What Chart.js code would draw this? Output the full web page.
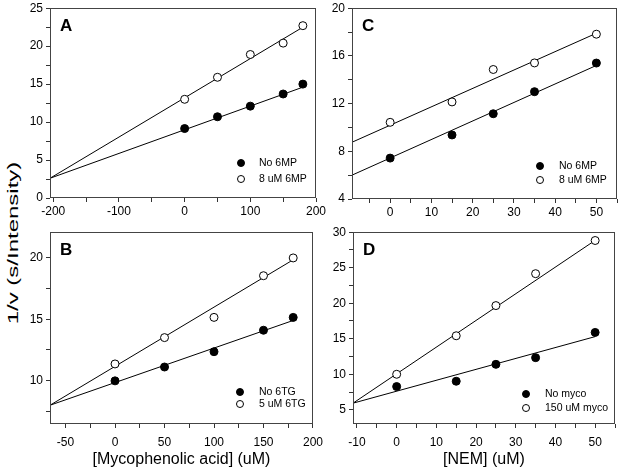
<!DOCTYPE html>
<html>
<head>
<meta charset="utf-8">
<script src="https://cdn.jsdelivr.net/npm/chart.js@4.4.1/dist/chart.umd.min.js"></script>
<style>
  body { margin: 0; background: #fff; width: 622px; height: 474px; overflow: hidden; position: relative; font-family: Arial, "Liberation Sans", sans-serif; }
  canvas { position: absolute; }
  #ytitle { position: absolute; left: 12px; top: 243px; font-size: 15px; white-space: nowrap;
            transform: translate(-50%, -50%) rotate(-90deg) scaleX(1.6); }
</style>
</head>
<body>
<div id="ytitle">1/v (s/Intensity)</div>
<canvas id="chartA" width="330" height="224" style="left:0;top:-2px"></canvas>
<canvas id="chartB" width="330" height="252" style="left:0;top:222px"></canvas>
<canvas id="chartC" width="302" height="224" style="left:320px;top:-2px"></canvas>
<canvas id="chartD" width="302" height="252" style="left:320px;top:222px"></canvas>
<script>
// A: mycophenolic acid, +/- 6MP
const xA = [0, 50, 100, 150, 180];
const noA = [9.15, 10.7, 12.1, 13.7, 15.0];
const withA = [13.0, 15.9, 18.9, 20.4, 22.7];
const fitXA = [-205, 180];
const fitNoA = [2.6, 14.6];
const fitWithA = [2.6, 22.5];

// B: mycophenolic acid, +/- 6TG
const xB = [0, 50, 100, 150, 180];
const noB = [9.97, 11.1, 12.35, 14.1, 15.15];
const withB = [11.35, 13.5, 15.15, 18.55, 20.0];
const fitXB = [-65.7, 180];
const fitNoB = [7.98, 14.9];
const fitWithB = [7.98, 19.85];

// C: NEM, +/- 6MP
const xC = [0, 15, 25, 35, 50];
const noC = [7.43, 9.37, 11.15, 13.0, 15.4];
const withC = [10.43, 12.14, 14.86, 15.41, 17.82];
const fitXC = [-9.25, 50];
const fitNoC = [6.0, 15.2];
const fitWithC = [8.76, 17.9];

// D: NEM, +/- mycophenolic acid
const xD = [0, 15, 25, 35, 50];
const noD = [8.27, 9.02, 11.4, 12.34, 15.89];
const withD = [10.0, 15.42, 19.67, 24.16, 28.83];
const fitXD = [-11, 50];
const fitNoD = [5.93, 15.3];
const fitWithD = [5.93, 28.85];

const tickFont = { family: 'Arial', size: 12 };

function pts(xs, ys) {
    return xs.map((x, i) => ({ x: x, y: ys[i] }));
}

// box round the plot, panel letter and small legend inside the plot
const panelDecor = {
    id: 'panelDecor',
    afterDatasetsDraw(chart, args, opts) {
        const ctx = chart.ctx;
        const a = chart.chartArea;
        const l = Math.round(a.left) + 0.5, t = Math.round(a.top) + 0.5;
        const r = Math.round(a.right) - 0.5, b = Math.round(a.bottom) - 0.5;
        ctx.save();
        ctx.strokeStyle = '#444';
        ctx.lineWidth = 1;
        ctx.strokeRect(l, t, r - l, b - t);

        ctx.fillStyle = '#000';
        ctx.textBaseline = 'middle';
        ctx.font = 'bold 17px Arial';
        ctx.fillText(opts.letter, a.left + 10, a.top + 18);

        ctx.font = '10.5px Arial';
        opts.rows.forEach((dy, i) => {
            const ds = chart.data.datasets[i];
            const y = a.bottom - dy;
            ctx.beginPath();
            ctx.arc(a.right - opts.markerDx, y, 3.5, 0, Math.PI * 2);
            ctx.fillStyle = ds.backgroundColor;
            ctx.fill();
            ctx.strokeStyle = '#000';
            ctx.stroke();
            ctx.fillStyle = '#000';
            ctx.fillText(ds.label, a.right - opts.textDx, y + 0.5);
        });
        ctx.restore();
    }
};

function makePanel(id, p) {
    const labelEvery = (step) => (v) => (Math.abs(v % step) < 1e-9 ? String(v) : '');
    return new Chart(id, {
        type: 'scatter',
        data: {
            datasets: [
                { label: p.labels[0], data: pts(p.x, p.no), backgroundColor: '#000', borderColor: '#000',
                  pointRadius: 4, borderWidth: 1 },
                { label: p.labels[1], data: pts(p.x, p.with), backgroundColor: '#fff', borderColor: '#000',
                  pointRadius: 4, borderWidth: 1 },
                { data: pts(p.fitX, p.fitNo), showLine: true, pointRadius: 0, borderColor: '#000', borderWidth: 1 },
                { data: pts(p.fitX, p.fitWith), showLine: true, pointRadius: 0, borderColor: '#000', borderWidth: 1 }
            ]
        },
        options: {
            responsive: false,
            animation: false,
            layout: { padding: { top: p.padTop, right: p.padRight, left: 0, bottom: 0 } },
            plugins: {
                legend: { display: false },
                tooltip: { enabled: false },
                panelDecor: p.decor
            },
            scales: {
                x: {
                    type: 'linear',
                    min: p.xMin, max: p.xMax,
                    border: { display: false },
                    grid: { drawOnChartArea: false, tickLength: 4, tickColor: '#333' },
                    ticks: { stepSize: p.xStep, includeBounds: false, autoSkip: false, maxRotation: 0,
                             color: '#000', font: tickFont, padding: p.xPad, callback: labelEvery(p.xLabelStep) },
                    title: p.xTitle ? { display: true, text: p.xTitle, color: '#000',
                                        font: { family: 'Arial', size: 16 }, padding: { top: 0, bottom: 5 } }
                                    : { display: false },
                    afterFit: (s) => { s.height = p.xHeight; }
                },
                y: {
                    min: p.yMin, max: p.yMax,
                    border: { display: false },
                    grid: { drawOnChartArea: false, tickLength: 4, tickColor: '#333' },
                    ticks: { stepSize: p.yStep, includeBounds: false, autoSkip: false,
                             color: '#000', font: tickFont, padding: 3, callback: labelEvery(p.yLabelStep) },
                    afterFit: (s) => { s.width = p.yWidth; }
                }
            }
        },
        plugins: [panelDecor]
    });
}

makePanel('chartA', {
    x: xA, no: noA, with: withA, fitX: fitXA, fitNo: fitNoA, fitWith: fitWithA,
    labels: ['No 6MP', '8 uM 6MP'],
    xMin: -205, xMax: 200, xStep: 50, xLabelStep: 100,
    yMin: 0, yMax: 25, yStep: 2.5, yLabelStep: 5,
    padTop: 8, padRight: 14, yWidth: 50, xHeight: 24, xPad: 2,
    decor: { letter: 'A', rows: [35, 19], markerDx: 75, textDx: 57 }
});

makePanel('chartB', {
    x: xB, no: noB, with: withB, fitX: fitXB, fitNo: fitNoB, fitWith: fitWithB,
    labels: ['No 6TG', '5 uM 6TG'],
    xMin: -65.7, xMax: 200, xStep: 25, xLabelStep: 50,
    yMin: 6.45, yMax: 22.1, yStep: 2.5, yLabelStep: 5,
    padTop: 9, padRight: 14, yWidth: 50, xHeight: 50, xPad: 7,
    xTitle: '[Mycophenolic acid] (uM)',
    decor: { letter: 'B', rows: [32, 20], markerDx: 73, textDx: 54 }
});

makePanel('chartC', {
    x: xC, no: noC, with: withC, fitX: fitXC, fitNo: fitNoC, fitWith: fitWithC,
    labels: ['No 6MP', '8 uM 6MP'],
    xMin: -9.25, xMax: 55, xStep: 5, xLabelStep: 10,
    yMin: 4, yMax: 20, yStep: 2, yLabelStep: 4,
    padTop: 8, padRight: 2, yWidth: 32, xHeight: 23, xPad: 2,
    decor: { letter: 'C', rows: [33, 19], markerDx: 77, textDx: 58 }
});

makePanel('chartD', {
    x: xD, no: noD, with: withD, fitX: fitXD, fitNo: fitNoD, fitWith: fitWithD,
    labels: ['No myco', '150 uM myco'],
    xMin: -11, xMax: 55, xStep: 5, xLabelStep: 10,
    yMin: 3, yMax: 30, yStep: 2.5, yLabelStep: 5,
    padTop: 10, padRight: 2, yWidth: 33, xHeight: 50, xPad: 7,
    xTitle: '[NEM] (uM)',
    decor: { letter: 'D', rows: [30, 16], markerDx: 89, textDx: 70 }
});
</script>
</body>
</html>
